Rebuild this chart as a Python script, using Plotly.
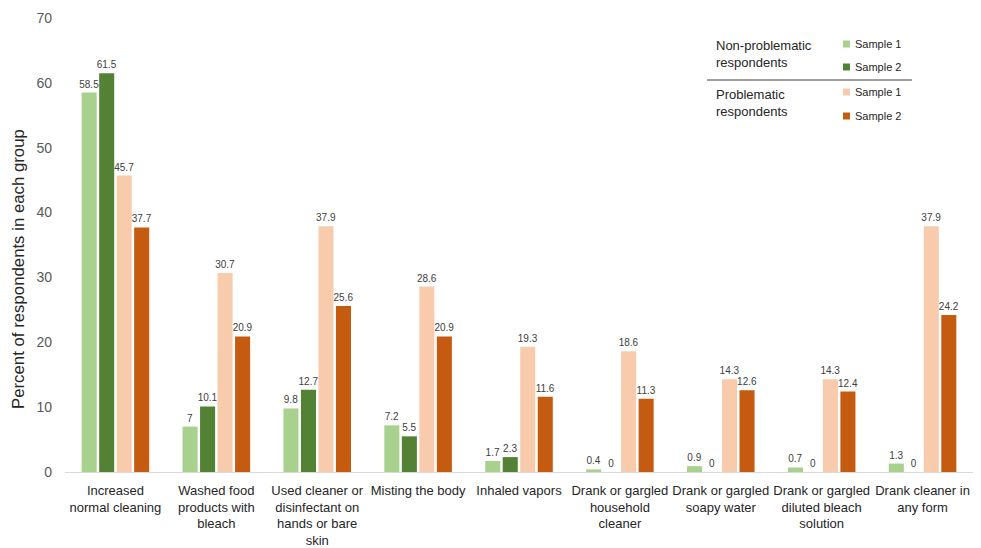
import plotly.graph_objects as go

categories = [
    "Increased<br>normal cleaning",
    "Washed food<br>products with<br>bleach",
    "Used cleaner or<br>disinfectant on<br>hands or bare<br>skin",
    "Misting the body",
    "Inhaled vapors",
    "Drank or gargled<br>household<br>cleaner",
    "Drank or gargled<br>soapy water",
    "Drank or gargled<br>diluted bleach<br>solution",
    "Drank cleaner in<br>any form",
]
nonprob_s1 = [58.5, 7, 9.8, 7.2, 1.7, 0.4, 0.9, 0.7, 1.3]
nonprob_s2 = [61.5, 10.1, 12.7, 5.5, 2.3, 0, 0, 0, 0]
prob_s1 = [45.7, 30.7, 37.9, 28.6, 19.3, 18.6, 14.3, 14.3, 37.9]
prob_s2 = [37.7, 20.9, 25.6, 20.9, 11.6, 11.3, 12.6, 12.4, 24.2]
series_names = ["Sample 1", "Sample 2", "Sample 1", "Sample 2"]
colors = ["#A9D18E", "#548235", "#F8CBAD", "#C55A11"]
y_ticks = [0, 10, 20, 30, 40, 50, 60, 70]

FONT = "Liberation Sans"
fig = go.Figure()
for vals, name, col in zip([nonprob_s1, nonprob_s2, prob_s1, prob_s2], series_names, colors):
    fig.add_trace(go.Bar(
        x=categories, y=vals, name=name, marker_color=col, marker_line_width=0,
        text=[f"{v:g}" for v in vals], textposition="outside",
        textfont=dict(size=10, color="#404040", family=FONT),
        constraintext="none", cliponaxis=False, showlegend=False,
    ))

fig.update_layout(
    width=981, height=548,
    margin=dict(l=65, r=8, t=18, b=76),
    paper_bgcolor="white", plot_bgcolor="white",
    barmode="group", bargap=0.306, bargroupgap=0.14,
    font=dict(family=FONT, color="#404040"),
    xaxis=dict(
        tickfont=dict(size=13, color="#262626", family=FONT),
        showline=True, linecolor="#D9D9D9", linewidth=1,
        showgrid=False, ticks="", automargin=False, ticklabelstandoff=6,
    ),
    yaxis=dict(
        range=[0, 70], tickvals=y_ticks, showgrid=False, zeroline=False,
        showline=False, tickfont=dict(size=14, color="#595959", family=FONT),
        automargin=False, ticklabelstandoff=12,
    ),
)

# Custom legend / titles in pixel-based paper coordinates
def px(x):
    return (x - 65) / 908.0

def py(y):
    return (472 - y) / 454.0

fig.add_annotation(xref="paper", yref="paper", x=px(18), y=py(269),
                   text="Percent of respondents in each group", textangle=-90,
                   showarrow=False, xanchor="center", yanchor="middle",
                   font=dict(size=16.8, color="#262626", family=FONT))

legend_rows = [44, 67, 92, 116]
for yv, col, name in zip(legend_rows, colors, series_names):
    fig.add_shape(type="rect", xref="paper", yref="paper",
                  x0=px(843), x1=px(850), y0=py(yv + 3.5), y1=py(yv - 3.5),
                  fillcolor=col, line_width=0)
    fig.add_annotation(xref="paper", yref="paper", x=px(853), y=py(yv),
                       text=name, showarrow=False, xanchor="left", yanchor="middle",
                       font=dict(size=11, color="#262626", family=FONT))

fig.add_annotation(xref="paper", yref="paper", x=px(714), y=py(54),
                   text="Non-problematic<br>respondents", showarrow=False,
                   xanchor="left", yanchor="middle", align="left",
                   font=dict(size=13, color="#262626", family=FONT))
fig.add_annotation(xref="paper", yref="paper", x=px(714), y=py(103),
                   text="Problematic<br>respondents", showarrow=False,
                   xanchor="left", yanchor="middle", align="left",
                   font=dict(size=13, color="#262626", family=FONT))
fig.add_shape(type="line", xref="paper", yref="paper",
              x0=px(707), x1=px(912), y0=py(80), y1=py(80),
              line=dict(color="#404040", width=1))

fig.write_html("out.html")
